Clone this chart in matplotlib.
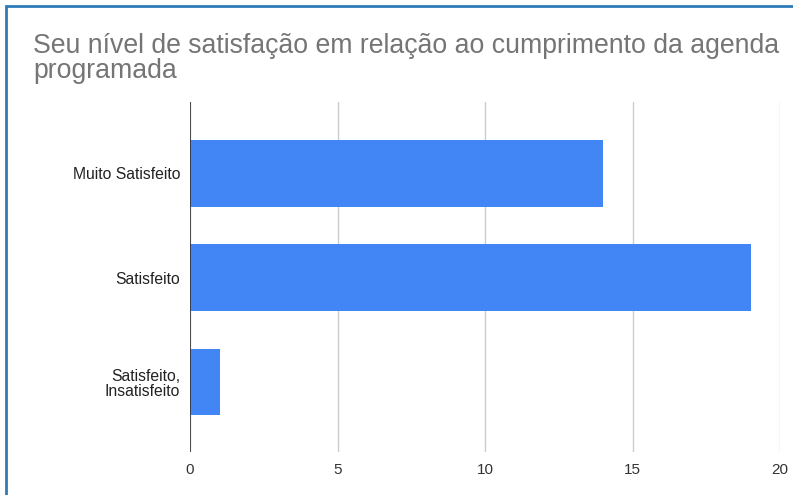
import matplotlib.pyplot as plt
from matplotlib.patches import Rectangle

categories = ["Muito Satisfeito", "Satisfeito", "Satisfeito,\nInsatisfeito"]
values = [14, 19, 1]
xticks = [0, 5, 10, 15, 20]

title = "Seu nível de satisfação em relação ao cumprimento da agenda\nprogramada"

W, H = 793, 495
fig = plt.figure(figsize=(W / 100, H / 100), dpi=100)
ax = fig.add_axes([190 / W, 1 - 452 / H, 590 / W, 350 / H])

y = list(range(len(categories)))
ax.barh(y, values, height=0.64, color="#4285F4", zorder=3)

ax.set_xlim(0, 20)
ax.set_ylim(2.67, -0.684)
ax.set_xticks(xticks)
ax.set_xticklabels([str(t) for t in xticks], fontsize=11, color="#333333",
                   family="Liberation Sans")
ax.set_yticks(y)
ax.set_yticklabels(categories, fontsize=11.3, color="#222222",
                   family="Liberation Sans", linespacing=1.0)
ax.tick_params(length=0, pad=8)
ax.tick_params(axis="y", pad=7)

ax.grid(axis="x", color="#cccccc", linewidth=1, zorder=0)
for s in ax.spines.values():
    s.set_visible(False)
ax.axvline(0, color="#333333", linewidth=1.2, zorder=4)

fig.text(33 / W, 1 - 33 / H, title, fontsize=19.2, color="#757575",
         family="Liberation Sans", va="top", ha="left", linespacing=0.95)

fig.patches.append(Rectangle((6 / W, -0.1), 1.2, 1 - 6 / H + 0.1,
                             transform=fig.transFigure, fill=False,
                             edgecolor="#2E7BB8", linewidth=2))

fig.savefig("out.png", dpi=100)
